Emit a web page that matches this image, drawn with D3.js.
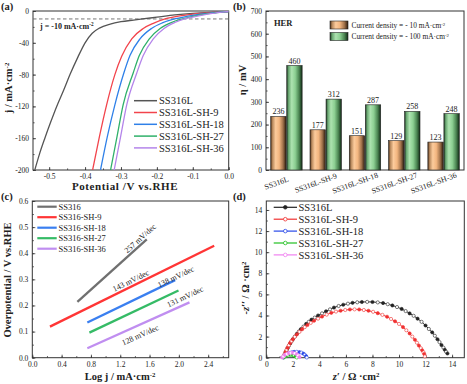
<!DOCTYPE html>
<html lang="en">
<head>
<meta charset="utf-8">
<script src="https://d3js.org/d3.v7.min.js"></script>
<style>
  body { margin: 0; background: #fff; }
  svg text { font-family: "Liberation Serif", "Times New Roman", serif; fill: #222; }
</style>
</head>
<body>
<script>
// ---------- (a) polarisation curves ----------
const lsvNames = ["SS316L", "SS316L-SH-9", "SS316L-SH-18", "SS316L-SH-27", "SS316L-SH-36"];
const lsvV = [
  [-0.540, -0.527, -0.512, -0.496, -0.479, -0.460, -0.442, -0.420, -0.400, -0.380, -0.360, -0.330, -0.300, -0.265, -0.240, -0.200, -0.150, -0.100, -0.050, 0],
  [-0.379, -0.360, -0.340, -0.317, -0.298, -0.270, -0.238, -0.210, -0.177, -0.136, -0.100, -0.061, -0.030, 0],
  [-0.357, -0.338, -0.317, -0.292, -0.275, -0.247, -0.215, -0.185, -0.151, -0.117, -0.080, -0.052, -0.025, 0],
  [-0.329, -0.311, -0.294, -0.266, -0.249, -0.221, -0.191, -0.160, -0.129, -0.103, -0.070, -0.043, -0.020, 0],
  [-0.319, -0.301, -0.284, -0.256, -0.238, -0.210, -0.180, -0.150, -0.123, -0.094, -0.062, -0.038, -0.018, 0]
];
const lsvJ = [
  [-200, -180, -160, -140, -120, -100, -80, -58, -40, -28, -21.5, -16.5, -13.5, -11.4, -10, -7.8, -5, -3, -1.7, -0.9],
  [-200, -158, -118, -80, -57, -35, -22, -15.5, -10, -6.2, -4, -2.4, -1.3, -0.6],
  [-200, -158, -118, -78, -56, -35, -22, -15, -10, -6.8, -4, -2.6, -1.3, -0.6],
  [-200, -158, -118, -78, -56, -35, -22, -14.5, -10, -7, -4.2, -2.6, -1.3, -0.6],
  [-200, -158, -118, -78, -56, -35, -22, -14.5, -10, -7, -4.2, -2.6, -1.3, -0.6]
];
const jRef = -10;

// ---------- (b) overpotentials ----------
const herCats = ["SS316L", "SS316L-SH-9", "SS316L-SH-18", "SS316L-SH-27", "SS316L-SH-36"];
const eta10 = [236, 177, 151, 129, 123];
const eta100 = [460, 312, 287, 258, 248];

// ---------- (c) Tafel ----------
const tafelNames = ["SS316", "SS316-SH-9", "SS316-SH-18", "SS316-SH-27", "SS316-SH-36"];
const tafelLogJ = [[0.615, 1.562], [0.241, 2.482], [0.751, 1.949], [0.779, 1.995], [0.751, 2.145]];
const tafelEta = [[0.214, 0.453], [0.119, 0.429], [0.135, 0.297], [0.096, 0.257], [0.036, 0.212]];
const tafelSlopes = ["257 mV/dec", "143 mV/dec", "138 mV/dec", "131 mV/dec", "128 mV/dec"];

// ---------- (d) Nyquist ----------
const eisNames = ["SS316L", "SS316L-SH-9", "SS316L-SH-18", "SS316L-SH-27", "SS316L-SH-36"];
const eisRe = [
  [1.3, 1.38, 1.45, 1.53, 1.6, 1.7, 1.8, 1.9, 2.0, 2.15, 2.3, 2.45, 2.6, 2.8, 3.0, 3.2, 3.4, 3.65, 3.9, 4.2, 4.5, 4.8, 5.1, 5.45, 5.8, 6.15, 6.5, 6.85, 7.2, 7.6, 8.0, 8.4, 8.8, 9.15, 9.5, 9.85, 10.2, 10.5, 10.8, 11.1, 11.4, 11.7, 12.0, 12.25, 12.5, 12.7, 12.9, 13.05, 13.2, 13.35, 13.45, 13.55, 13.65],
  [1.3, 1.38, 1.45, 1.53, 1.6, 1.7, 1.8, 1.9, 2.0, 2.15, 2.3, 2.5, 2.7, 2.9, 3.1, 3.35, 3.6, 3.9, 4.2, 4.55, 4.9, 5.25, 5.6, 5.95, 6.3, 6.65, 7.0, 7.35, 7.7, 8.05, 8.4, 8.75, 9.1, 9.4, 9.7, 10.0, 10.3, 10.55, 10.8, 11.0, 11.2, 11.35, 11.5, 11.65, 11.75, 11.85, 11.9, 11.95],
  [1.3, 1.4, 1.5, 1.65, 1.8, 1.95, 2.1, 2.3, 2.5, 2.65, 2.8, 2.9, 3.0, 3.05],
  [1.3, 1.4, 1.5, 1.65, 1.8, 1.9, 2.0, 2.1, 2.2, 2.3],
  [1.2, 1.3, 1.4, 1.55, 1.7, 1.85, 2.0, 2.15, 2.3, 2.4, 2.5]
];
const eisIm = [
  [0.1, 0.3, 0.5, 0.7, 0.9, 1.12, 1.35, 1.55, 1.75, 2.0, 2.25, 2.48, 2.7, 2.95, 3.2, 3.4, 3.6, 3.8, 4.0, 4.2, 4.4, 4.58, 4.75, 4.9, 5.02, 5.12, 5.2, 5.25, 5.28, 5.29, 5.28, 5.24, 5.18, 5.07, 4.95, 4.8, 4.62, 4.42, 4.2, 3.97, 3.7, 3.4, 3.05, 2.72, 2.4, 2.08, 1.75, 1.48, 1.2, 0.95, 0.75, 0.56, 0.4],
  [0.1, 0.32, 0.55, 0.75, 0.95, 1.18, 1.4, 1.58, 1.75, 1.98, 2.2, 2.45, 2.7, 2.9, 3.1, 3.3, 3.5, 3.7, 3.9, 4.08, 4.25, 4.37, 4.45, 4.52, 4.57, 4.58, 4.57, 4.52, 4.45, 4.35, 4.22, 4.06, 3.88, 3.67, 3.45, 3.2, 2.9, 2.6, 2.3, 2.0, 1.7, 1.42, 1.15, 0.9, 0.7, 0.5, 0.35, 0.12],
  [0.02, 0.15, 0.26, 0.38, 0.46, 0.52, 0.55, 0.56, 0.53, 0.48, 0.38, 0.28, 0.15, 0.02],
  [0.02, 0.1, 0.17, 0.24, 0.28, 0.28, 0.26, 0.2, 0.12, 0.02],
  [0.02, 0.14, 0.26, 0.37, 0.44, 0.47, 0.47, 0.42, 0.32, 0.2, 0.06]
];

const lsvColors = ["#555555", "#f2444c", "#2f80e8", "#2fb06a", "#b485ea"];
const tafelColors = ["#707070", "#ff3535", "#3a7ff0", "#35bb66", "#c08ef0"];
const eisColors = ["#222222", "#f03030", "#2848e8", "#22c022", "#f080f0"];

const W = 467, H = 384;
const svg = d3.select("body").append("svg").attr("width", W).attr("height", H)
  .attr("font-family", '"Liberation Serif", "Times New Roman", serif');

// helpers
function sup(sel, parts) {
  parts.forEach(p => {
    const t = sel.append("tspan").text(p[0]);
    if (p[1]) t.attr("baseline-shift", "super").attr("font-size", "65%");
  });
  return sel;
}

function drawAxes(g, x, y, o) {
  const yb = y.range()[0], xl = x.range()[0];
  const ax = g.append("g").attr("transform", `translate(0,${yb})`)
    .call(d3.axisBottom(x).tickValues(o.xt).tickSizeInner(o.xt.length ? -3 : 0).tickSizeOuter(0).tickPadding(4).tickFormat(o.xf));
  const axm = g.append("g").attr("transform", `translate(0,${yb})`)
    .call(d3.axisBottom(x).tickValues(o.xm).tickSize(-1.6).tickFormat(""));
  const ay = g.append("g").attr("transform", `translate(${xl},0)`)
    .call(d3.axisLeft(y).tickValues(o.yt).tickSizeInner(-3).tickSizeOuter(0).tickPadding(4).tickFormat(o.yf));
  const aym = g.append("g").attr("transform", `translate(${xl},0)`)
    .call(d3.axisLeft(y).tickValues(o.ym).tickSize(-1.6).tickFormat(""));
  [ax, axm, ay, aym].forEach(a => {
    a.attr("font-family", null).attr("font-size", null);
    a.select(".domain").remove();
    a.selectAll("line").attr("stroke", "#333").attr("stroke-width", 0.8);
    a.selectAll("text").attr("font-size", 7.5).attr("fill", "#222");
  });
  g.append("rect")
    .attr("x", x.range()[0]).attr("y", y.range()[1])
    .attr("width", x.range()[1] - x.range()[0]).attr("height", y.range()[0] - y.range()[1])
    .attr("fill", "none").attr("stroke", "#333").attr("stroke-width", 1);
}

function panelLabel(txt, px, py) {
  svg.append("text").attr("x", px).attr("y", py).attr("font-size", 10.5)
    .attr("font-weight", "bold").text(txt);
}

const f1 = d => d.toFixed(1);
const fi = d => String(d);
const rng = (a, b, s) => d3.range(Math.round((b - a) / s) + 1).map(i => +(a + i * s).toFixed(4));

// ================= (a) =================
{
  const g = svg.append("g");
  const x = d3.scaleLinear().domain([-0.545, 0]).range([33, 228.7]);
  const y = d3.scaleLinear().domain([-200, 0]).range([170, 11]);
  drawAxes(g, x, y, {
    xt: rng(-0.5, 0, 0.1), xm: rng(-0.5, 0, 0.05), xf: f1,
    yt: rng(-200, 0, 40), ym: rng(-200, 0, 20), yf: fi
  });
  g.append("line").attr("x1", x.range()[0]).attr("x2", x.range()[1])
    .attr("y1", y(jRef)).attr("y2", y(jRef))
    .attr("stroke", "#666").attr("stroke-width", 0.9).attr("stroke-dasharray", "3.5,2.5");
  sup(g.append("text").attr("x", 40).attr("y", 28.5).attr("font-size", 8).attr("font-weight", "bold"),
    [["j = -10 mA·cm", false], ["-2", true]]);

  const line = d3.line().x(d => x(d[0])).y(d => y(d[1])).curve(d3.curveMonotoneX);
  g.append("clipPath").attr("id", "clipA").append("rect")
    .attr("x", 33).attr("y", 11).attr("width", 195.7).attr("height", 159);
  lsvNames.forEach((n, i) => {
    const pts = lsvV[i].map((v, k) => [v, lsvJ[i][k]]);
    g.append("path").attr("d", line(pts)).attr("fill", "none")
      .attr("stroke", lsvColors[i]).attr("stroke-width", 1.3).attr("clip-path", "url(#clipA)");
  });
  // legend
  lsvNames.forEach((n, i) => {
    const ry = 100.7 + i * 11.8;
    g.append("line").attr("x1", 134).attr("x2", 157).attr("y1", ry).attr("y2", ry)
      .attr("stroke", lsvColors[i]).attr("stroke-width", 1.5);
    g.append("text").attr("x", 159).attr("y", ry + 3.6).attr("font-size", 10.5).text(n);
  });
  sup(g.append("text").attr("transform", "translate(12,88) rotate(-90)").attr("text-anchor", "middle")
    .attr("font-size", 10.5).attr("font-weight", "bold"), [["j / mA·cm", false], ["-2", true]]);
  g.append("text").attr("x", 125).attr("y", 190).attr("text-anchor", "middle")
    .attr("font-size", 11).attr("font-weight", "bold").attr("letter-spacing", 0.6)
    .text("Potential /V  vs.RHE");
  panelLabel("(a)", 1, 10);
}

// ================= (b) =================
{
  const g = svg.append("g");
  const defs = svg.append("defs");
  const grad = (id, stops) => {
    const lg = defs.append("linearGradient").attr("id", id).attr("x1", 0).attr("x2", 1).attr("y1", 0).attr("y2", 0);
    stops.forEach(s => lg.append("stop").attr("offset", s[0]).attr("stop-color", s[1]));
  };
  grad("gOr", [[0, "#4a2e18"], [0.12, "#b98a5e"], [0.32, "#fccb9c"], [0.55, "#f3b680"], [0.8, "#a0714a"], [1, "#2e1c0e"]]);
  grad("gGr", [[0, "#1c3520"], [0.12, "#6aa872"], [0.32, "#ade3b0"], [0.55, "#8ccf92"], [0.8, "#4b8552"], [1, "#122a16"]]);

  const x = d3.scaleBand().domain(herCats).range([266, 464]).paddingInner(0.2).paddingOuter(0.12);
  const xs = d3.scaleBand().domain(["10", "100"]).range([0, x.bandwidth()]).paddingInner(0.04);
  const y = d3.scaleLinear().domain([0, 700]).range([170, 11]);
  drawAxes(g, d3.scaleLinear().domain([0, 1]).range([266, 464]), y, {
    xt: [], xm: [], xf: fi,
    yt: rng(0, 700, 100), ym: rng(0, 700, 50), yf: fi
  });
  const series = [["10", eta10, "url(#gOr)"], ["100", eta100, "url(#gGr)"]];
  series.forEach(s => {
    herCats.forEach((c, i) => {
      const bx = x(c) + xs(s[0]);
      g.append("rect").attr("x", bx).attr("y", y(s[1][i]))
        .attr("width", xs.bandwidth()).attr("height", y(0) - y(s[1][i]))
        .attr("fill", s[2]).attr("stroke", "#222").attr("stroke-width", 0.6);
      g.append("text").attr("x", bx + xs.bandwidth() / 2).attr("y", y(s[1][i]) - 2)
        .attr("text-anchor", "middle").attr("font-size", 8).text(s[1][i]);
    });
  });
  herCats.forEach(c => {
    const cx = x(c) + x.bandwidth() / 2 - 9;
    g.append("text").attr("transform", `translate(${cx},185.5) rotate(-20)`)
      .attr("text-anchor", "middle").attr("font-size", 7.8).text(c);
  });
  g.append("text").attr("x", 274).attr("y", 25.5).attr("font-size", 8.5).attr("font-weight", "bold").text("HER");
  [["gOr", "10"], ["gGr", "100"]].forEach((l, i) => {
    const ry = 21 + i * 11.5;
    g.append("rect").attr("x", 330).attr("y", ry).attr("width", 18).attr("height", 8)
      .attr("fill", `url(#${l[0]})`).attr("stroke", "#222").attr("stroke-width", 0.6);
    sup(g.append("text").attr("x", 351.5).attr("y", ry + 6.8).attr("font-size", 7.4),
      [[`Current density = - ${l[1]} mA·cm`, false], ["-2", true]]);
  });
  g.append("text").attr("transform", "translate(246,80) rotate(-90)").attr("text-anchor", "middle")
    .attr("font-size", 10.5).attr("font-weight", "bold").text("η / mV");
  panelLabel("(b)", 233, 10);
}

// ================= (c) =================
{
  const g = svg.append("g");
  const x = d3.scaleLinear().domain([0, 2.68]).range([32.3, 228.7]);
  const y = d3.scaleLinear().domain([0, 0.6]).range([357.7, 201]);
  drawAxes(g, x, y, {
    xt: rng(0, 2.4, 0.4), xm: rng(0, 2.6, 0.2), xf: f1,
    yt: rng(0, 0.6, 0.1), ym: rng(0, 0.6, 0.05), yf: f1
  });
  const labelAt = [[1.47, 0.457], [1.343, 0.295], [1.957, 0.31], [2.084, 0.234], [1.47, 0.087]];
  tafelNames.forEach((n, i) => {
    const x1 = x(tafelLogJ[i][0]), x2 = x(tafelLogJ[i][1]);
    const y1 = y(tafelEta[i][0]), y2 = y(tafelEta[i][1]);
    g.append("line").attr("x1", x1).attr("x2", x2).attr("y1", y1).attr("y2", y2)
      .attr("stroke", tafelColors[i]).attr("stroke-width", 2.3);
    const ang = Math.atan2(y2 - y1, x2 - x1) * 180 / Math.PI;
    g.append("text")
      .attr("transform", `translate(${x(labelAt[i][0])},${y(labelAt[i][1])}) rotate(${ang})`)
      .attr("text-anchor", "middle").attr("dy", "0.35em").attr("font-size", 8).text(tafelSlopes[i]);
  });
  tafelNames.forEach((n, i) => {
    const ry = 206.7 + i * 10.5;
    g.append("line").attr("x1", 37.3).attr("x2", 56.7).attr("y1", ry).attr("y2", ry)
      .attr("stroke", tafelColors[i]).attr("stroke-width", 2.2);
    g.append("text").attr("x", 58.5).attr("y", ry + 3).attr("font-size", 8.5).text(n);
  });
  g.append("text").attr("transform", "translate(11,280) rotate(-90)").attr("text-anchor", "middle")
    .attr("font-size", 10.5).attr("font-weight", "bold").text("Overpotential / V vs.RHE");
  sup(g.append("text").attr("x", 120).attr("y", 380).attr("text-anchor", "middle")
    .attr("font-size", 10.5).attr("font-weight", "bold"), [["Log j / mA·cm", false], ["-2", true]]);
  panelLabel("(c)", 1, 200);
}

// ================= (d) =================
{
  const g = svg.append("g");
  const x = d3.scaleLinear().domain([0, 14.92]).range([266.3, 464.3]);
  const y = d3.scaleLinear().domain([0, 14.85]).range([357.7, 201]);
  drawAxes(g, x, y, {
    xt: rng(0, 14, 2), xm: rng(0, 14, 1), xf: fi,
    yt: rng(0, 14, 2), ym: rng(0, 14, 1), yf: fi
  });
  const line = d3.line().x(d => x(d[0])).y(d => y(d[1])).curve(d3.curveCatmullRom);
  eisNames.forEach((n, i) => {
    const pts = eisRe[i].map((v, k) => [v, eisIm[i][k]]);
    g.append("path").attr("d", line(pts)).attr("fill", "none")
      .attr("stroke", eisColors[i]).attr("stroke-width", 0.9);
    g.selectAll(null).data(pts).join("circle")
      .attr("cx", d => x(d[0])).attr("cy", d => y(d[1])).attr("r", 1.6)
      .attr("fill", (d, k) => k % 2 ? "#fff" : eisColors[i])
      .attr("stroke", eisColors[i]).attr("stroke-width", 0.6);
  });
  eisNames.forEach((n, i) => {
    const ry = 207.3 + i * 11.9;
    g.append("line").attr("x1", 273.7).attr("x2", 297).attr("y1", ry).attr("y2", ry)
      .attr("stroke", eisColors[i]).attr("stroke-width", 1.2);
    g.append("circle").attr("cx", 285.3).attr("cy", ry).attr("r", 1.8)
      .attr("fill", i === 0 ? "#222" : "#fff").attr("stroke", eisColors[i]).attr("stroke-width", 0.8);
    g.append("text").attr("x", 298.5).attr("y", ry + 3.6).attr("font-size", 10.5).text(n);
  });
  const yl = g.append("text").attr("transform", "translate(249,288) rotate(-90)").attr("text-anchor", "middle")
    .attr("font-size", 10.5).attr("font-weight", "bold");
  yl.append("tspan").attr("font-style", "italic").text("-z′′");
  sup(yl, [[" / Ω ·cm", false], ["2", true]]);
  const xl = g.append("text").attr("x", 356).attr("y", 380).attr("text-anchor", "middle")
    .attr("font-size", 10.5).attr("font-weight", "bold");
  xl.append("tspan").attr("font-style", "italic").text("z′");
  sup(xl, [[" / Ω ·cm", false], ["2", true]]);
  panelLabel("(d)", 233, 200);
}
</script>
</body>
</html>
